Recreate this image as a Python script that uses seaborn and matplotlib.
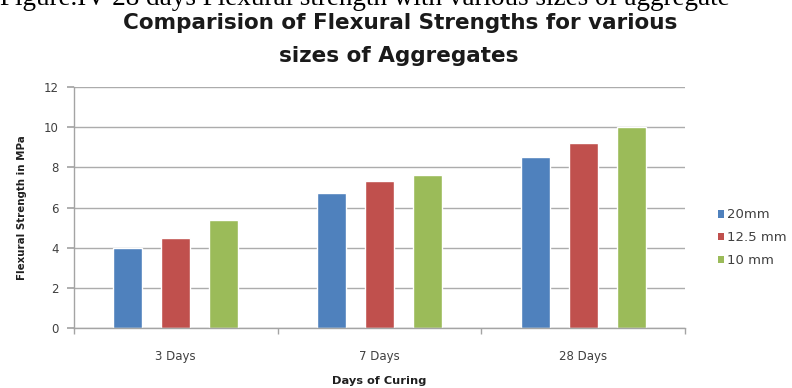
import matplotlib
matplotlib.use("Agg")
import matplotlib.pyplot as plt
import seaborn as sns
import pandas as pd
from matplotlib.ticker import FixedLocator
from matplotlib.patches import Patch

# Flexural strength (MPa) by curing age and aggregate size
days = ["3 Days", "7 Days", "28 Days"]
sizes = ["20mm", "12.5 mm", "10 mm"]
strength_20mm = [4.0, 6.7, 8.5]
strength_12_5mm = [4.5, 7.3, 9.2]
strength_10mm = [5.4, 7.6, 10.0]
colors = ["#4F81BD", "#C0504D", "#9BBB59"]

rows = []
for size, vals in zip(sizes, [strength_20mm, strength_12_5mm, strength_10mm]):
    for d, v in zip(days, vals):
        rows.append({"Days": d, "Size": size, "Strength": v})
df = pd.DataFrame(rows)

sns.set_theme(style="white")
plt.rcParams["font.family"] = ["DejaVu Sans"]

fig = plt.figure(figsize=(7.92, 3.88), dpi=100)
ax = fig.add_axes([0.0934, 0.1546, 0.7715, 0.6212])

sns.barplot(data=df, x="Days", y="Strength", hue="Size", order=days,
            hue_order=sizes, palette=colors, width=0.708, gap=0.4,
            saturation=1, ax=ax, legend=False)

ax.set_ylim(0, 12)
ax.set_xlim(-0.5, 2.5)
ax.set_yticks(range(0, 13, 2))
ax.yaxis.grid(True, color="#acacac", linewidth=1.0)
ax.set_axisbelow(True)
for side in ["top", "right"]:
    ax.spines[side].set_visible(False)
for side in ["left", "bottom"]:
    ax.spines[side].set_color("#a4a4a4")
    ax.spines[side].set_linewidth(1.0)

ax.tick_params(axis="y", which="major", left=True, length=5, color="#a4a4a4",
               labelsize=8.5, labelcolor="#404040", pad=6)
ax.tick_params(axis="x", which="major", bottom=False, labelsize=8.5,
               labelcolor="#404040", pad=10)
ax.xaxis.set_minor_locator(FixedLocator([-0.5, 0.5, 1.5, 2.5]))
ax.tick_params(axis="x", which="minor", bottom=True, length=4, color="#a4a4a4")

ax.set_xlabel("Days of Curing", fontsize=8.2, fontweight="bold",
              color="#202020", labelpad=9)
ax.set_ylabel("Flexural Strength in MPa", fontsize=7.4, fontweight="bold",
              color="#202020", labelpad=12)

# legend on the right, small square markers
handles = [Patch(facecolor=c, edgecolor="none") for c in colors]
fig.legend(handles, sizes, loc="center left", bbox_to_anchor=(0.898, 0.387),
           frameon=False, fontsize=9.5, handlelength=0.5, handleheight=0.5,
           handletextpad=0.2, labelspacing=0.75, borderpad=0,
           labelcolor="#404040")

fig.text(0.505, 0.925, "Comparision of Flexural Strengths for various",
         ha="center", va="baseline", fontsize=15.5, fontweight="bold",
         color="#1a1a1a")
fig.text(0.503, 0.840, "sizes of Aggregates", ha="center", va="baseline",
         fontsize=15.5, fontweight="bold", color="#1a1a1a")

# figure caption running above the chart
fig.text(0.0, 0.987, "Figure.IV 28 days Flexural strength with various sizes of aggregate",
         ha="left", va="baseline", fontsize=19.5, family=["Liberation Serif"],
         color="#000000")

fig.savefig("out.png", dpi=100)
